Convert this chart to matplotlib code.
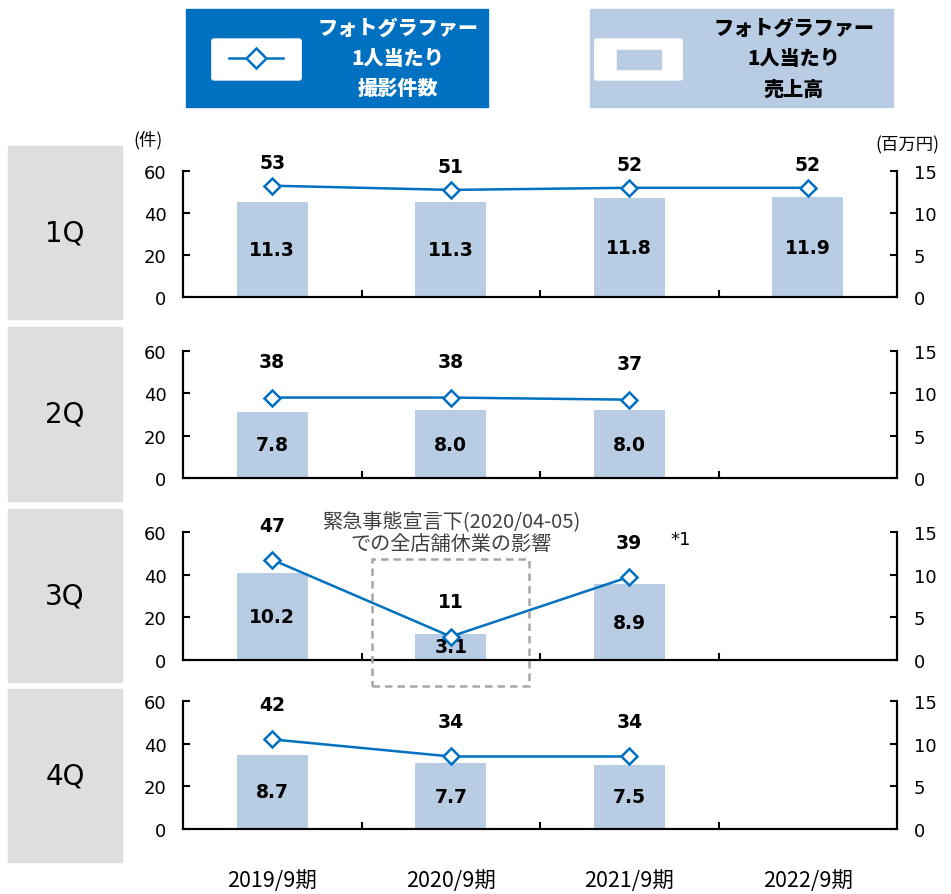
import matplotlib
matplotlib.use('Agg')
import matplotlib.pyplot as plt
from matplotlib.patches import Rectangle, FancyBboxPatch
from matplotlib.lines import Line2D

plt.rcParams['font.family'] = ['Noto Sans CJK JP', 'DejaVu Sans']

# dados
periodos = ['2019/9期', '2020/9期', '2021/9期', '2022/9期']
trimestres = ['1Q', '2Q', '3Q', '4Q']
# 撮影件数 (eixo esquerdo)
q1_件数 = [53, 51, 52, 52]
q2_件数 = [38, 38, 37]
q3_件数 = [47, 11, 39]
q4_件数 = [42, 34, 34]
# 売上高 (eixo direito, 百万円)
q1_売上 = [11.3, 11.3, 11.8, 11.9]
q2_売上 = [7.8, 8.0, 8.0]
q3_売上 = [10.2, 3.1, 8.9]
q4_売上 = [8.7, 7.7, 7.5]

件数 = [q1_件数, q2_件数, q3_件数, q4_件数]
売上 = [q1_売上, q2_売上, q3_売上, q4_売上]

azul = '#0070C0'
barra = '#B8CCE4'
cinza = '#DEDEDE'
num_font = ['DejaVu Sans']

W, H = 951, 895
fig = plt.figure(figsize=(W / 100, H / 100), dpi=100)

def fx(px):
    return px / W

def fy(py):
    return 1 - py / H

# posicao de cada painel (topo, base) em pixels
paineis = [(172, 298), (352, 479), (533, 661), (702, 830)]
caixas = [(147, 320), (328, 502), (510, 683), (690, 863)]
offset_rotulo = [17, 26, 25, 25]   # em pontos, acima do marcador

x0, x1 = 183, 897
for i in range(4):
    topo, base = paineis[i]
    ax = fig.add_axes([fx(x0), fy(base), fx(x1 - x0), (base - topo) / H])
    ax2 = ax.twinx()
    xs = list(range(len(売上[i])))
    ax2.bar(xs, 売上[i], width=0.4, color=barra, zorder=1)
    ax2.set_ylim(0, 15)
    ax.set_ylim(0, 60)
    ax.set_xlim(-0.5, 3.5)
    ax.set_zorder(ax2.get_zorder() + 1)
    ax.patch.set_visible(False)
    xl = list(range(len(件数[i])))
    ax.plot(xl, 件数[i], color=azul, lw=1.8, marker='D', ms=8.5,
            mfc='white', mec=azul, mew=1.8, zorder=3)
    for x, v in zip(xl, 件数[i]):
        ax.annotate(str(v), (x, v), xytext=(0, offset_rotulo[i]), textcoords='offset points',
                    ha='center', va='center', fontsize=13.5, fontweight='bold',
                    color='black', family=num_font)
    for x, v in zip(xs, 売上[i]):
        ax2.text(x, v / 2, f'{v:.1f}', ha='center', va='center', fontsize=13.5,
                 fontweight='bold', color='black', zorder=2, family=num_font)

    ax.set_yticks([0, 20, 40, 60])
    ax2.set_yticks([0, 5, 10, 15])
    ax.set_xticks([0.5, 1.5, 2.5], minor=False)
    ax.set_xticklabels([])
    ax.tick_params(axis='x', direction='in', length=5, width=1.5)
    ax.tick_params(axis='y', direction='in', length=5, width=1.5, labelsize=13, pad=12)
    ax2.tick_params(axis='y', direction='in', length=5, width=1.5, labelsize=13, pad=12)
    for a in (ax, ax2):
        a.spines['top'].set_visible(False)
        for s in ('left', 'right', 'bottom'):
            a.spines[s].set_linewidth(1.5)
    for lab in ax.get_yticklabels() + ax2.get_yticklabels():
        lab.set_fontfamily(num_font)

    # caixa cinza com o trimestre
    c0, c1 = caixas[i]
    fig.patches.append(Rectangle((fx(8), fy(c1)), fx(122 - 8), (c1 - c0) / H,
                                 transform=fig.transFigure, color=cinza, zorder=0))
    fig.text(fx(65), fy((c0 + c1) / 2), trimestres[i], ha='center', va='center',
             fontsize=20, family=num_font)

    if i == 2:
        ax.annotate('*1', (2, 件数[i][2]), xytext=(30, 27), textcoords='offset points',
                    fontsize=13, ha='left', va='center', family=num_font)
        ax.text(1.0, 1.0, '緊急事態宣言下(2020/04-05)\nでの全店舗休業の影響',
                transform=ax.get_xaxis_transform(), ha='center', va='center',
                fontsize=14.5, color='#404040', linespacing=1.15)
        fig.patches.append(Rectangle((fx(372), fy(687)), fx(529 - 372), (687 - 560) / H,
                                     transform=fig.transFigure, fill=False, ec='#A6A6A6',
                                     lw=1.8, ls=(0, (3, 2)), zorder=5))

    if i == 3:
        ax.set_xticks(list(range(4)), minor=True)
        ax.set_xticklabels(periodos, minor=True)
        ax.tick_params(axis='x', which='minor', length=0, pad=29, labelsize=15.5)

# unidades
fig.text(fx(148), fy(140), '(件)', ha='center', va='center', fontsize=12.5)
fig.text(fx(907), fy(145), '(百万円)', ha='center', va='center', fontsize=12.5)

# legenda azul
fig.patches.append(Rectangle((fx(186), fy(108)), fx(488 - 186), 98 / H,
                             transform=fig.transFigure, color=azul, zorder=0))
fig.patches.append(FancyBboxPatch((fx(214), fy(79)), fx(85), 37 / H,
                                  boxstyle='round,pad=0.003', transform=fig.transFigure,
                                  fc='white', ec='none'))
fig.lines.append(Line2D([fx(229), fx(283)], [fy(59), fy(59)], transform=fig.transFigure,
                        color=azul, lw=1.8, marker=None))
fig.lines.append(Line2D([fx(256)], [fy(59)], transform=fig.transFigure, color=azul,
                        marker='D', ms=10, mfc='white', mec=azul, mew=1.8))
fig.text(fx(398), fy(59), 'フォトグラファー\n1人当たり\n撮影件数', ha='center', va='center',
         fontsize=14.5, fontweight='black', color='white', linespacing=1.65)

# legenda clara
fig.patches.append(Rectangle((fx(590), fy(108)), fx(893 - 590), 98 / H,
                             transform=fig.transFigure, color=barra, zorder=0))
fig.patches.append(FancyBboxPatch((fx(597), fy(79)), fx(83), 37 / H,
                                  boxstyle='round,pad=0.003', transform=fig.transFigure,
                                  fc='white', ec='none'))
fig.patches.append(Rectangle((fx(617), fy(70)), fx(44), 19 / H,
                             transform=fig.transFigure, color=barra))
fig.text(fx(794), fy(59), 'フォトグラファー\n1人当たり\n売上高', ha='center', va='center',
         fontsize=14.5, fontweight='black', color='black', linespacing=1.65)

fig.savefig('out.png', dpi=100)
